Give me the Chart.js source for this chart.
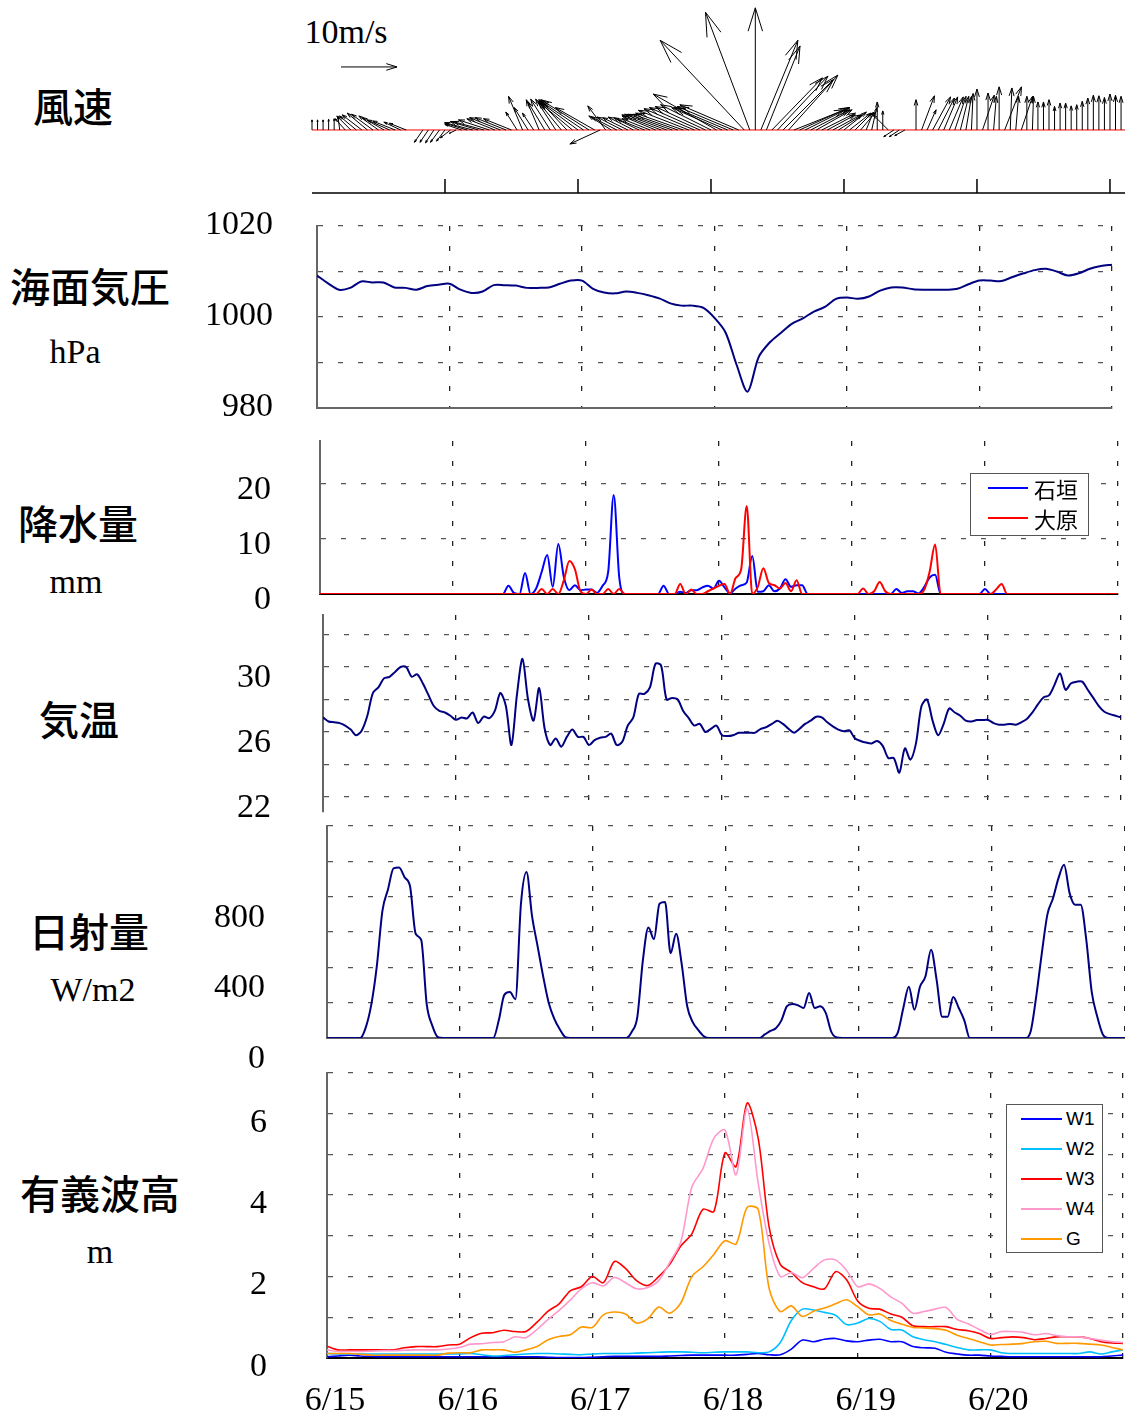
<!DOCTYPE html>
<html>
<head>
<meta charset="utf-8">
<title>風速・気圧・降水量・気温・日射量・有義波高</title>
<script src="https://cdn.jsdelivr.net/npm/chart.js@4.4.1/dist/chart.umd.min.js"></script>
<style>
  html, body { margin: 0; padding: 0; background: #fff; }
  #page { position: relative; width: 1125px; height: 1416px; overflow: hidden; }
  #page canvas { position: absolute; left: 0; }
  .lab { position: absolute; transform: translate(-50%, -50%); white-space: nowrap; color: #000; line-height: 1; }
  .jp { font-family: "Noto Sans CJK JP", sans-serif; font-size: 40px; font-weight: 500; }
  .serif { font-family: "Liberation Serif", serif; font-size: 34px; }
  .legend { position: absolute; background: #fff; border: 1.5px solid #555; box-sizing: border-box; z-index: 5; }
  .legend .sw { position: absolute; height: 0; border-top: 2px solid; }
  .legend .tx { position: absolute; transform: translateY(-50%); white-space: nowrap; line-height: 1; color: #000; }
</style>
</head>
<body>
<div id="page">
  <div class="lab serif" style="left:346px;top:32px">10m/s</div>
  <div class="lab jp" style="left:73px;top:105px">風速</div>
  <div class="lab jp" style="left:90px;top:285px">海面気圧</div>
  <div class="lab serif" style="left:75px;top:352px">hPa</div>
  <div class="lab jp" style="left:78px;top:522px">降水量</div>
  <div class="lab serif" style="left:76px;top:582px">mm</div>
  <div class="lab jp" style="left:79px;top:718px">気温</div>
  <div class="lab jp" style="left:89px;top:930px">日射量</div>
  <div class="lab serif" style="left:93px;top:990px">W/m2</div>
  <div class="lab jp" style="left:100px;top:1192px">有義波高</div>
  <div class="lab serif" style="left:100px;top:1252px">m</div>

  <canvas id="cWind" width="1125" height="200" style="top:0px"></canvas>
  <canvas id="cPres" width="1125" height="230" style="top:200px"></canvas>
  <canvas id="cRain" width="1125" height="190" style="top:430px"></canvas>
  <canvas id="cTemp" width="1125" height="230" style="top:600px"></canvas>
  <canvas id="cSolar" width="1125" height="265" style="top:815px"></canvas>
  <canvas id="cWave" width="1125" height="356" style="top:1060px"></canvas>

  <div id="legRain" class="legend"></div>
  <div id="legWave" class="legend"></div>
</div>

<script>
// ---- time axis (days from 6/15 00:00) ----
var dateLabels = ['6/15', '6/16', '6/17', '6/18', '6/19', '6/20'];
var dayTicks = [0, 1, 2, 3, 4, 5, 6];

// ---- wind vectors, hourly from 6/15 00:00 (m/s, u = east, v = north) ----
var windU = [
  0, 0, 0, 0, 0, -0.3, -1.8, -2.5, -3.0, -3.5, -3.6, -3.8, -3.5, -3.8, -4.0, -4.0, -3.0, -3.0, null, null, -1.5, -1.5, -1.5, -1.6,
  -1.5, -1.8, -1.2, -3.0, -4.0, -5.0, -5.0, -5.5, -5.5, -5.0, -5.5, -5.5, -5.0, -2.0, -2.5, -2.5, -2.0, -2.3, -3.0, -3.5, -3.6, -4.1, -4.5, -6.0,
  -7.0, -8.0, -8.6, -7.0, -5.4, -3.2, -4.0, -4.5, -4.5, -4.5, -4.5, -4.5, -5.0, -5.0, -6.0, -7.0, -7.5, -7.8, -8.0, -8.5, -9.0, -9.0, -9.0, -9.0,
  -9.0, -11.3, -9.0, -9.5, -10.0, -10.5, -15.0, -7.9, 0, 6.6, 6.0, 9.0, 9.0, 9.0, 8.8, 9.0, 8.8, 8.0, 7.0, 6.4, 6.0, 5.0, 5.0, 4.3,
  4.0, 3.8, 3.0, 2.7, 1.3, 0.9, 0, 0, -2.7, -1.8, -1.8, -1.8, null, 0, 2.3, 1.6, 3.2, 2.9, 2.5, 2.5, 2.0, 1.5, 1.0, 0.3,
  0, 2.1, 0, 0.5, 0, 3.0, 0.3, 0.5, 2.0, 0, 0.2, 0, 0, 0, 0, 0, 0, 0, 0, 0, 0, 0, 0, 0,
  0, 0, 0
];
var windV = [
  1.8, 1.8, 1.8, 1.9, 2.0, 2.4, 2.0, 2.5, 2.5, 2.7, 3.0, 2.8, 2.5, 2.2, 1.8, 1.6, 1.4, 1.2, null, null, -2.2, -2.2, -2.3, -2.2,
  -2.0, -1.4, -0.6, 1.0, 1.2, 1.3, 1.5, 1.5, 1.8, 2.0, 2.2, 2.2, 2.0, 3.2, 6.0, 4.0, 3.0, 5.4, 5.0, 5.5, 5.5, 5.0, 4.8, 5.0,
  5.2, 5.4, 5.4, 4.0, -2.5, 4.3, 2.5, 2.3, 2.3, 2.2, 2.3, 2.2, 2.0, 2.0, 2.5, 2.7, 2.8, 2.8, 2.8, 3.0, 3.5, 3.8, 4.0, 4.2,
  4.5, 6.4, 4.0, 4.0, 4.2, 4.5, 16.0, 21.0, 21.8, 16.0, 15.0, 9.3, 9.6, 9.0, 9.8, 3.6, 4.0, 4.0, 3.6, 3.6, 3.0, 2.7, 2.7, 2.7,
  3.2, 3.0, 3.0, 3.2, 3.2, 4.0, 5.0, 3.4, 2.7, -1.2, -1.2, -1.0, null, 5.4, 6.1, 3.6, 5.9, 5.7, 5.9, 5.9, 6.0, 6.0, 6.0, 6.5,
  7.3, 6.2, 6.6, 6.0, 7.7, 7.7, 7.5, 6.0, 6.0, 6.0, 6.0, 5.0, 5.0, 5.4, 4.2, 4.8, 4.8, 4.3, 4.5, 5.1, 5.7, 6.2, 6.1, 5.8,
  6.4, 6.2, 6.0
];

// ---- sea level pressure, every 2 h (hPa) ----
var pressure = [
  1009.1, 1007.4, 1006.0, 1006.4, 1007.8, 1007.6, 1007.6, 1006.5, 1006.4, 1006.0, 1006.8, 1007.1,
  1007.3, 1006.0, 1005.3, 1005.6, 1007.0, 1007.0, 1006.9, 1006.4, 1006.4, 1006.5, 1007.3, 1008.0,
  1008.0, 1006.2, 1005.4, 1005.2, 1005.6, 1005.3, 1004.8, 1004.1, 1003.0, 1002.5, 1002.5, 1002.0,
  999.8, 996.6, 989.5, 983.6, 991.2, 994.4, 996.5, 998.5, 999.7, 1001.2, 1002.2, 1004.0,
  1004.3, 1004.0, 1004.5, 1005.8, 1006.5, 1006.5, 1006.1, 1006.0, 1006.0, 1006.0, 1006.2, 1007.2,
  1008.0, 1008.0, 1007.9, 1008.8, 1009.6, 1010.3, 1010.6, 1010.0, 1009.1, 1009.6, 1010.6, 1011.2,
  1011.5
];

// ---- hourly precipitation (mm) ----
var rainNames = ['石垣', '大原'];
var rainColors = ['#0000ff', '#ff0000'];
var rainIshigaki = [
  0, 0, 0, 0, 0, 0, 0, 0, 0, 0, 0, 0, 0, 0, 0, 0, 0, 0, 0, 0, 0, 0, 0, 0,
  0, 0, 0, 0, 0, 0, 0, 0, 0, 0, 1.5, 0.2, 0, 3.8, 0, 1.0, 4.0, 7.1, 1.3, 9.1, 3.1, 0.7, 1.6, 0.7,
  0.8, 0.8, 0.2, 1.5, 4.0, 18.0, 3.0, 0, 0, 0, 0, 0, 0, 0, 1.5, 0, 0, 0.4, 0.2, 0.7, 0.7, 1.2, 1.5, 1.0,
  2.4, 1.2, 0.1, 1.0, 1.6, 2.1, 6.9, 0.4, 0.5, 1.6, 0.5, 1.0, 2.7, 1.3, 1.6, 1.6, 0, 0, 0, 0, 0, 0, 0, 0,
  0, 0, 0, 0, 0, 0, 0, 0, 0.9, 0.2, 0.5, 0.5, 0.1, 1.2, 3.0, 3.5, 0, 0, 0, 0, 0, 0, 0, 0,
  0.9, 0, 0, 0, 0, 0, 0, 0, 0, 0, 0, 0, 0, 0, 0, 0, 0, 0, 0, 0, 0, 0, 0, 0,
  0
];
var rainOhara = [
  0, 0, 0, 0, 0, 0, 0, 0, 0, 0, 0, 0, 0, 0, 0, 0, 0, 0, 0, 0, 0, 0, 0, 0,
  0, 0, 0, 0, 0, 0, 0, 0, 0, 0, 0, 0, 0, 0, 0, 0, 0.9, 0, 0.9, 0, 2.5, 6.0, 4.5, 0.5,
  0, 0.8, 0, 0, 0.9, 0, 0.9, 0, 0, 0, 0, 0, 0, 0, 0, 0, 0, 1.8, 0, 0.8, 0, 0, 0.5, 1.0,
  1.5, 1.8, 0, 2.9, 4.5, 16.0, 0, 1.3, 4.7, 2.0, 1.6, 1.0, 2.0, 0.5, 2.5, 0, 0, 0, 0, 0, 0, 0, 0, 0,
  0, 0, 1.0, 0, 0.5, 2.2, 0.5, 0, 0, 0, 0, 0, 0, 0.7, 4.0, 9.0, 0, 0, 0, 0, 0, 0, 0, 0,
  0, 0, 0.8, 1.8, 0, 0, 0, 0, 0, 0, 0, 0, 0, 0, 0, 0, 0, 0, 0, 0, 0, 0, 0, 0,
  0
];

// ---- hourly air temperature (deg C) ----
var temperature = [
  26.9, 26.65, 26.6, 26.55, 26.4, 26.15, 25.8, 26.1, 27.0, 28.4, 28.75, 29.3, 29.4, 29.7, 30.0, 30.0, 29.4, 29.55, 29.0, 28.3, 27.6, 27.3, 27.2, 27.0,
  26.75, 26.9, 26.84, 27.2, 26.55, 26.95, 26.85, 27.3, 28.4, 27.6, 25.2, 28.3, 30.5, 28.0, 26.7, 28.7, 26.2, 25.2, 25.6, 25.1, 25.7, 26.15, 25.7, 25.7,
  25.2, 25.5, 25.65, 25.7, 25.9, 25.2, 25.4, 26.4, 26.9, 28.35, 28.35, 28.75, 30.2, 30.1, 28.0, 28.1, 28.0, 27.3, 26.85, 26.4, 26.5, 26.0, 26.2, 26.4,
  25.8, 25.75, 25.8, 25.95, 25.96, 25.96, 25.96, 26.2, 26.3, 26.5, 26.7, 26.5, 26.2, 25.96, 26.2, 26.5, 26.7, 26.94, 26.9, 26.6, 26.35, 26.15, 26.05, 26.1,
  25.6, 25.45, 25.35, 25.3, 25.45, 25.15, 24.4, 24.4, 23.5, 25.0, 24.3, 25.3, 27.6, 28.0, 26.7, 25.8, 26.5, 27.45, 27.2, 27.0, 26.7, 26.65, 26.74, 26.74,
  26.74, 26.55, 26.45, 26.45, 26.5, 26.45, 26.6, 26.8, 27.2, 27.7, 28.13, 28.25, 28.9, 29.6, 28.6, 29.0, 29.1, 29.1, 28.6, 28.1, 27.6, 27.25, 27.1, 27.0,
  26.9
];

// ---- hourly solar radiation (W/m2) ----
var solar = [
  0, 0, 0, 0, 0, 0, 0, 60, 190, 410, 720, 840, 960, 965, 910, 856, 590, 555, 190, 70, 5, 0, 0, 0,
  0, 0, 0, 0, 0, 0, 0, 100, 244, 260, 220, 760, 940, 690, 520, 350, 200, 110, 50, 5, 0, 0, 0, 0,
  0, 0, 0, 0, 0, 0, 0, 35, 120, 440, 625, 560, 760, 770, 480, 590, 420, 180, 90, 45, 10, 0, 0, 0,
  0, 0, 0, 0, 0, 0, 0, 20, 40, 55, 100, 180, 193, 185, 170, 255, 170, 180, 142, 35, 3, 0, 0, 0,
  0, 0, 0, 0, 0, 0, 0, 30, 170, 290, 160, 290, 350, 500, 330, 120, 120, 232, 170, 100, 0, 0, 0, 0,
  0, 0, 0, 0, 0, 0, 0, 40, 240, 482, 700, 790, 905, 980, 820, 754, 754, 560, 260, 120, 20, 0, 0, 0,
  0
];

// ---- significant wave height, every 2 h (m) ----
var waveNames = ['W1', 'W2', 'W3', 'W4', 'G'];
var waveColors = ['#0000ff', '#00bfff', '#ff0000', '#ff99cc', '#ff9900'];
var waveW1 = [
  0.03, 0.05, 0.07, 0.05, 0.04, 0.03, 0.03, 0.03, 0.03, 0.03, 0.03, 0.03,
  0.03, 0.03, 0.03, 0.03, 0.03, 0.03, 0.03, 0.03, 0.02, 0.01, 0.01, 0.01,
  0.02, 0.03, 0.04, 0.04, 0.04, 0.04, 0.04, 0.05, 0.06, 0.07, 0.07, 0.07,
  0.07, 0.07, 0.09, 0.11, 0.08, 0.08, 0.22, 0.44, 0.4, 0.46, 0.48, 0.42,
  0.4, 0.44, 0.46, 0.4, 0.4, 0.28, 0.25, 0.24, 0.14, 0.1, 0.07, 0.07,
  0.05, 0.04, 0.03, 0.03, 0.03, 0.03, 0.03, 0.03, 0.03, 0.03, 0.03, 0.05,
  0.07
];
var waveW2 = [
  0.11, 0.1, 0.1, 0.1, 0.1, 0.1, 0.1, 0.1, 0.1, 0.1, 0.1, 0.1,
  0.1, 0.11, 0.08, 0.05, 0.06, 0.08, 0.1, 0.11, 0.11, 0.1, 0.09, 0.08,
  0.1, 0.11, 0.11, 0.11, 0.12, 0.13, 0.14, 0.15, 0.15, 0.14, 0.13, 0.14,
  0.15, 0.15, 0.15, 0.13, 0.15, 0.38, 0.92, 1.2, 1.18, 1.12, 1.05, 0.82,
  0.86, 0.97, 0.9, 0.7, 0.69, 0.52, 0.45, 0.4, 0.33, 0.26, 0.2, 0.2,
  0.2, 0.13, 0.11, 0.11, 0.11, 0.11, 0.11, 0.11, 0.11, 0.15, 0.1, 0.15,
  0.2
];
var waveW3 = [
  0.29, 0.2, 0.2, 0.2, 0.2, 0.2, 0.2, 0.25, 0.28, 0.28, 0.28, 0.32,
  0.34, 0.5, 0.61, 0.62, 0.68, 0.65, 0.65, 0.88, 1.15, 1.33, 1.65, 1.75,
  2.0, 1.85, 2.37, 2.2, 1.9, 1.78, 2.0, 2.3, 2.75, 3.05, 3.65, 3.6,
  5.04, 4.7, 6.26, 5.4, 3.2, 2.3, 2.1, 1.85, 1.75, 1.7, 2.12, 1.92,
  1.4, 1.22, 1.2, 1.08, 1.0, 0.79, 0.77, 0.77, 0.77, 0.7, 0.67, 0.6,
  0.48, 0.5, 0.52, 0.5, 0.45, 0.48, 0.52, 0.52, 0.52, 0.48, 0.4, 0.37,
  0.36
];
var waveW4 = [
  0.2, 0.16, 0.16, 0.16, 0.17, 0.18, 0.18, 0.19, 0.2, 0.2, 0.2, 0.22,
  0.26, 0.34, 0.35, 0.38, 0.4, 0.52, 0.5, 0.7, 0.95, 1.17, 1.42, 1.7,
  1.85, 1.77, 1.98, 1.85, 1.7, 1.73, 1.9, 2.35, 2.85, 4.2, 4.65, 5.4,
  5.6, 4.5, 6.13, 4.3, 2.8, 2.0, 2.1, 1.97, 2.2, 2.41, 2.41, 2.15,
  1.75, 1.82, 1.71, 1.5, 1.34, 1.1, 1.14, 1.2, 1.24, 0.95, 0.84, 0.7,
  0.58, 0.65, 0.65, 0.63, 0.57, 0.6, 0.55, 0.52, 0.52, 0.48, 0.44, 0.4,
  0.38
];
var waveG = [
  0.11, 0.11, 0.11, 0.09, 0.07, 0.07, 0.07, 0.07, 0.07, 0.07, 0.07, 0.12,
  0.13, 0.13, 0.2, 0.2, 0.2, 0.14, 0.2, 0.28, 0.45, 0.53, 0.57, 0.76,
  0.75, 1.06, 1.13, 1.08, 0.86, 0.96, 1.25, 1.1, 1.35, 2.0, 2.24, 2.55,
  2.88, 2.8, 3.7, 3.65, 1.7, 1.14, 1.28, 1.02, 1.15, 1.23, 1.33, 1.43,
  1.26, 1.06, 1.08, 0.92, 0.83, 0.75, 0.74, 0.72, 0.68, 0.56, 0.48, 0.4,
  0.32, 0.33, 0.34, 0.36, 0.4, 0.41, 0.36, 0.36, 0.36, 0.34, 0.32, 0.26,
  0.2
];

var DASH = [5, 15];
var SERIF = 'Liberation Serif';

function timeSeries(vals, stepHours) {
  return vals.map(function (v, i) { return { x: i * stepHours / 24, y: v }; });
}

function noPad(s) {
  s.paddingTop = 0; s.paddingBottom = 0; s.paddingLeft = 0; s.paddingRight = 0;
}

function xScale(p) {
  var ticks = { display: false };
  if (p.labels) {
    ticks = {
      padding: 23, labelOffset: 8, color: '#000', maxRotation: 0, autoSkip: false,
      font: { family: SERIF, size: 34 },
      callback: function (v) { return p.labels[v] !== undefined ? p.labels[v] : ''; }
    };
  }
  return {
    type: 'linear', min: 0, max: p.max || 6,
    afterFit: function (s) { s.height = p.height || 0; noPad(s); },
    afterBuildTicks: function (s) { s.ticks = dayTicks.map(function (v) { return { value: v }; }); },
    grid: { color: '#222', lineWidth: 1.3, drawTicks: false },
    border: { display: !!p.border, color: p.border || '#000', width: 2, dash: DASH },
    ticks: ticks
  };
}

function yScale(p) {
  return {
    min: p.min, max: p.max,
    afterFit: function (s) { s.width = p.left; noPad(s); },
    afterBuildTicks: function (s) { s.ticks = p.grid.map(function (v) { return { value: v }; }); },
    grid: { color: '#555', lineWidth: 1.3, drawTicks: false },
    border: { display: true, color: '#666', width: 2, dash: DASH },
    ticks: {
      padding: p.pad, labelOffset: p.off, color: '#000', autoSkip: false,
      font: { family: SERIF, size: 34 },
      callback: function (v) { return p.labels.indexOf(v) >= 0 ? String(v) : ''; }
    }
  };
}

function line(data, color, width, extra) {
  var d = {
    data: data, borderColor: color, borderWidth: width, pointRadius: 0,
    fill: false, tension: 0.3
  };
  return Object.assign(d, extra || {});
}

function baseOptions(padding, scales) {
  return {
    responsive: false, animation: false, events: [],
    layout: { padding: padding },
    plugins: { legend: { display: false }, tooltip: { enabled: false } },
    scales: scales
  };
}

// ---- wind arrows ----
var REF_ARROW = { day: 0.218, level: 11.25, speed: 10 };

function drawArrow(ctx, x0, y0, x1, y1) {
  var dx = x1 - x0, dy = y1 - y0, L = Math.sqrt(dx * dx + dy * dy);
  if (L < 0.5) return;
  var h = 0.2 * L, a = Math.atan2(dy, dx), s = 0.3;
  ctx.beginPath();
  ctx.moveTo(x0, y0); ctx.lineTo(x1, y1);
  ctx.moveTo(x1 - h * Math.cos(a - s), y1 - h * Math.sin(a - s));
  ctx.lineTo(x1, y1);
  ctx.lineTo(x1 - h * Math.cos(a + s), y1 - h * Math.sin(a + s));
  ctx.stroke();
}

var windPlugin = {
  id: 'windArrows',
  afterDatasetsDraw: function (chart) {
    var ctx = chart.ctx, a = chart.chartArea, x = chart.scales.x, y = chart.scales.y;
    var y0 = y.getPixelForValue(0);
    var k = y0 - y.getPixelForValue(1);
    ctx.save();
    ctx.strokeStyle = '#ff0000'; ctx.lineWidth = 1;
    ctx.beginPath(); ctx.moveTo(a.left, y0); ctx.lineTo(a.right, y0); ctx.stroke();
    ctx.strokeStyle = '#000'; ctx.lineWidth = 1;
    chart.data.datasets[0].data.forEach(function (p) {
      if (p.u === null || p.v === null) return;
      var px = x.getPixelForValue(p.x);
      drawArrow(ctx, px, y0, px + p.u * k, y.getPixelForValue(p.v));
    });
    var rx = x.getPixelForValue(REF_ARROW.day), ry = y.getPixelForValue(REF_ARROW.level);
    drawArrow(ctx, rx, ry, rx + REF_ARROW.speed * k, ry);
    ctx.lineWidth = 1.5;
    ctx.beginPath();
    ctx.moveTo(a.left, a.bottom); ctx.lineTo(a.right, a.bottom);
    dayTicks.slice(1).forEach(function (d) {
      var px = x.getPixelForValue(d);
      ctx.moveTo(px, a.bottom); ctx.lineTo(px, a.bottom - 14);
    });
    ctx.stroke();
    ctx.restore();
  }
};

new Chart(document.getElementById('cWind'), {
  type: 'scatter',
  data: {
    datasets: [{
      data: windU.map(function (u, i) { return { x: i / 24, y: 0, u: u, v: windV[i] }; }),
      pointRadius: 0, showLine: false
    }]
  },
  options: baseOptions({ left: 312, right: 0, top: 0, bottom: 7 }, {
    x: { type: 'linear', display: false, min: 0, max: 6.113 },
    y: { display: false, min: -11.25, max: 23.2 }
  }),
  plugins: [windPlugin]
});

// ---- pressure ----
new Chart(document.getElementById('cPres'), {
  type: 'line',
  data: { datasets: [line(timeSeries(pressure, 2), '#000080', 2)] },
  options: baseOptions({ left: 0, right: 13, top: 26, bottom: 22 }, {
    x: xScale({ border: '#666' }),
    y: yScale({ min: 980, max: 1020, left: 317, pad: 44, off: -1,
      grid: [980, 990, 1000, 1010, 1020], labels: [980, 1000, 1020] })
  })
});

// ---- precipitation ----
new Chart(document.getElementById('cRain'), {
  type: 'line',
  data: { datasets: [
    line(timeSeries(rainIshigaki, 1), rainColors[0], 2, { cubicInterpolationMode: 'monotone', order: 1 }),
    line(timeSeries(rainOhara, 1), rainColors[1], 2, { cubicInterpolationMode: 'monotone', order: 0 })
  ] },
  options: baseOptions({ left: 0, right: 7, top: 11, bottom: 26 }, {
    x: xScale({ border: '#000' }),
    y: yScale({ min: 0, max: 27.8, left: 320, pad: 49, off: 6,
      grid: [0, 10, 20], labels: [0, 10, 20] })
  })
});

// ---- temperature ----
new Chart(document.getElementById('cTemp'), {
  type: 'line',
  data: { datasets: [line(timeSeries(temperature, 1), '#000080', 2)] },
  options: baseOptions({ left: 0, right: 4, top: 15, bottom: 18 }, {
    x: xScale({}),
    y: yScale({ min: 21.08, max: 33.2, left: 323, pad: 52, off: 11,
      grid: [22, 24, 26, 28, 30, 32], labels: [22, 26, 30] })
  })
});

// ---- solar radiation ----
new Chart(document.getElementById('cSolar'), {
  type: 'line',
  data: { datasets: [line(timeSeries(solar, 1), '#000080', 2, { cubicInterpolationMode: 'monotone' })] },
  options: baseOptions({ left: 0, right: 0, top: 11, bottom: 42 }, {
    x: xScale({ border: '#666' }),
    y: yScale({ min: 0, max: 1200, left: 327, pad: 62, off: 21,
      grid: [0, 200, 400, 600, 800, 1000, 1200], labels: [0, 400, 800] })
  })
});

// ---- wave height ----
var waveSeries = [waveW1, waveW2, waveW3, waveW4, waveG];
new Chart(document.getElementById('cWave'), {
  type: 'line',
  data: { datasets: waveSeries.map(function (s, i) {
    return line(timeSeries(s, 2), waveColors[i], 1.6, { order: waveSeries.length - i });
  }) },
  options: baseOptions({ left: 0, right: 2, top: 13, bottom: 0 }, {
    x: xScale({ border: '#000', labels: dateLabels, height: 58 }),
    y: yScale({ min: 0, max: 7, left: 327, pad: 60, off: 9,
      grid: [0, 1, 2, 3, 4, 5, 6, 7], labels: [0, 2, 4, 6] })
  })
});

// ---- legends ----
function buildLegend(id, box, names, colors, row) {
  var el = document.getElementById(id);
  el.style.left = box.left + 'px'; el.style.top = box.top + 'px';
  el.style.width = box.w + 'px'; el.style.height = box.h + 'px';
  names.forEach(function (n, i) {
    var y = row.first + i * row.step;
    var sw = document.createElement('div');
    sw.className = 'sw';
    sw.style.left = row.swLeft + 'px'; sw.style.width = row.swWidth + 'px';
    sw.style.top = (y - 1) + 'px'; sw.style.borderTopColor = colors[i];
    var tx = document.createElement('div');
    tx.className = 'tx';
    tx.style.left = row.txLeft + 'px'; tx.style.top = y + 'px';
    tx.style.font = row.font;
    tx.textContent = n;
    el.appendChild(sw); el.appendChild(tx);
  });
}

buildLegend('legRain', { left: 970, top: 473, w: 119, h: 63 }, rainNames, rainColors,
  { first: 14, step: 30, swLeft: 17, swWidth: 40, txLeft: 63, font: '22px "Noto Sans CJK JP"' });
buildLegend('legWave', { left: 1006, top: 1104, w: 97, h: 149 }, waveNames, waveColors,
  { first: 14, step: 30, swLeft: 14, swWidth: 41, txLeft: 59, font: '19px "Liberation Sans"' });
</script>
</body>
</html>
